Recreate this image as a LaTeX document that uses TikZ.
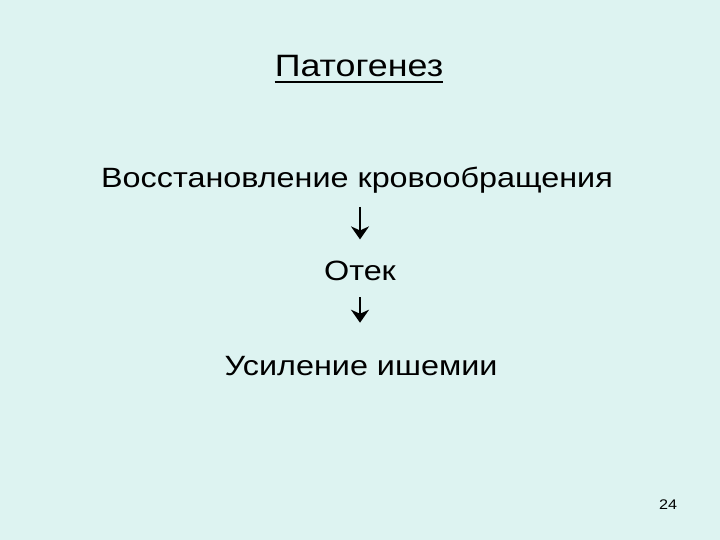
\documentclass[tikz,border=0pt]{standalone}
\usepackage{fontspec}
\setmainfont{Liberation Sans}[FakeStretch=1.16]
\usetikzlibrary{arrows.meta}

\definecolor{fondo}{RGB}{221,243,241}

\tikzset{
	texto/.style={anchor=base, inner sep=0pt, font=\fontsize{28}{32}\selectfont},
	flecha/.style={line width=3pt, -{Stealth[length=13pt, width=18pt, inset=4pt]}}
}

\begin{document}
	\begin{tikzpicture}[x=1bp, y=-1bp]

		\fill[fondo] (0,0) rectangle (720,540);
		\useasboundingbox (0,0) rectangle (720,540);

		\node[texto, font=\fontsize{31}{34}\selectfont] (titulo) at (359,77) {Патогенез};
		\draw[line width=2bp] ([yshift=-5bp]titulo.south west) -- ([yshift=-5bp]titulo.south east); %Subrayado

		\node[texto] (vosst) at (357,188) {Восстановление кровообращения};
		\node[texto] (otek) at (360,281) {Отек};
		\node[texto] (usil) at (361,375) {Усиление ишемии};

		\draw[flecha, shorten <=13pt, shorten >=22pt] (vosst.south -| otek.south) -- (otek.north); %Flecha
		\draw[flecha, shorten <=16pt, shorten >=33pt] (otek.south) -- (usil.north -| otek.south); %Flecha

		\node[anchor=base, inner sep=0pt, font=\fontsize{14}{16}\selectfont] (pagina) at (668,509) {24};

	\end{tikzpicture}
\end{document}
